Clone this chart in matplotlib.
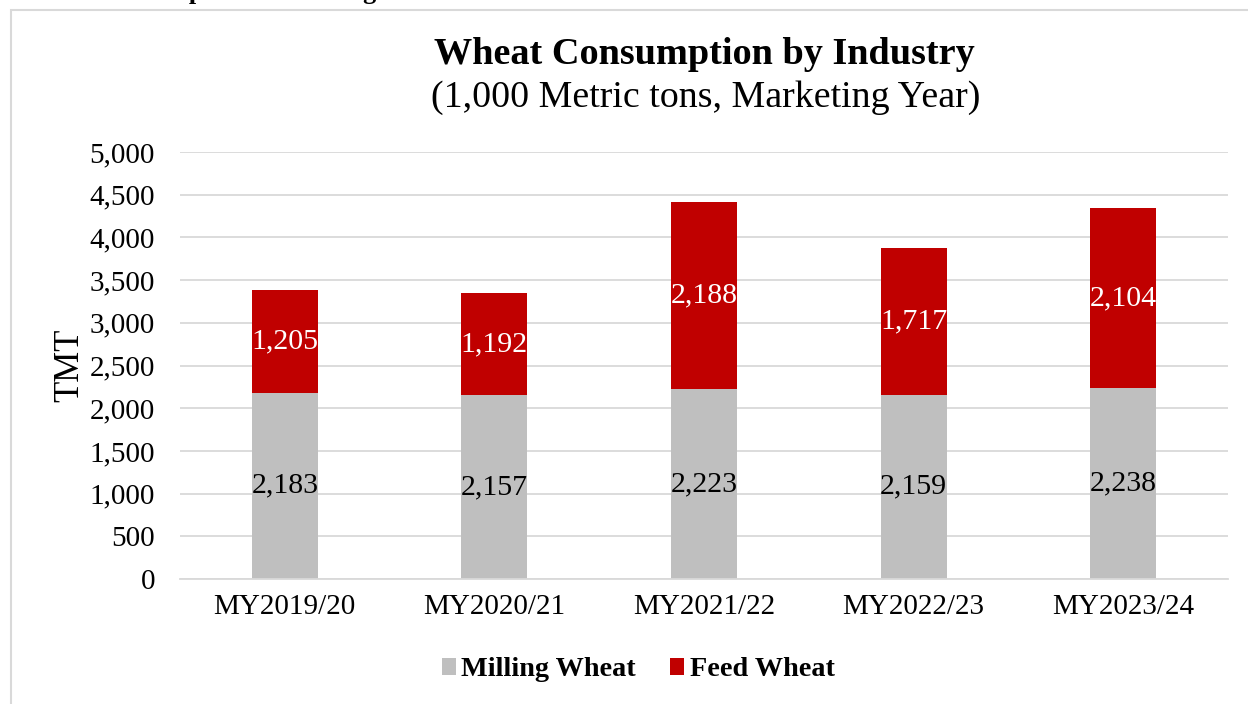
import numpy as np
import matplotlib.pyplot as plt
from matplotlib.patches import Rectangle

years = ['MY2019/20', 'MY2020/21', 'MY2021/22', 'MY2022/23', 'MY2023/24']
milling = [2183, 2157, 2223, 2159, 2238]
feed = [1205, 1192, 2188, 1717, 2104]

plt.rcParams['font.family'] = ['Liberation Serif', 'DejaVu Serif']

W, H = 1248, 704
fig = plt.figure(figsize=(W / 100, H / 100), dpi=100)
ax = fig.add_axes([180 / W, 1 - 579 / H, 1048 / W, 427 / H])

x = np.arange(len(years))
bw = 0.315
ax.bar(x, milling, bw, color='#bfbfbf', label='Milling Wheat', zorder=2)
ax.bar(x, feed, bw, bottom=milling, color='#c00000', label='Feed Wheat', zorder=2)

for i in range(len(years)):
    ax.text(x[i], milling[i] / 2, f'{milling[i]:,}', ha='center', va='center',
            fontsize=21.5, color='black', zorder=3)
    ax.text(x[i], milling[i] + feed[i] / 2, f'{feed[i]:,}', ha='center', va='center',
            fontsize=21.5, color='white', zorder=3)

ax.set_xlim(-0.5, 4.5)
ax.set_ylim(0, 5000)
ax.set_yticks(range(0, 5001, 500))
ax.set_yticklabels([f'{v:,}' for v in range(0, 5001, 500)], fontsize=21)
ax.set_xticks(x)
ax.set_xticklabels(years, fontsize=21)
ax.tick_params(length=0)
ax.tick_params(axis='y', pad=18)
ax.tick_params(axis='x', pad=11)
ax.grid(axis='y', color='#d9d9d9', lw=1.3, zorder=0)
for s in ['top', 'right', 'left']:
    ax.spines[s].set_visible(False)
ax.spines['bottom'].set_color('#d9d9d9')
ax.spines['bottom'].set_linewidth(1.3)
ax.set_ylabel('TMT', fontsize=25, labelpad=2)

fig.text(704 / W, 1 - 54 / H, 'Wheat Consumption by Industry', ha='center', va='center',
         fontsize=27.5, fontweight='bold')
fig.text(706 / W, 1 - 98 / H, '(1,000 Metric tons, Marketing Year)', ha='center', va='center',
         fontsize=27.3)

# cut-off heading above the chart box
fig.text(14 / W, 1 + 1 / H, 'Wheat Consumption for Milling and Feed', ha='left', va='baseline',
         fontsize=19, fontweight='bold')

fig.patches.append(Rectangle((11 / W, -0.05), 1.2, 1 - 10 / H + 0.05, transform=fig.transFigure,
                             fill=False, edgecolor='#d9d9d9', lw=1.5))

fig.legend(loc='center', bbox_to_anchor=(638 / W, 1 - 670 / H), ncol=2, frameon=False,
           prop={'size': 20.3, 'weight': 'bold'}, handlelength=0.5, handleheight=0.5,
           handletextpad=0.2, columnspacing=1.2, borderpad=0)

fig.savefig('out.png', dpi=100)
